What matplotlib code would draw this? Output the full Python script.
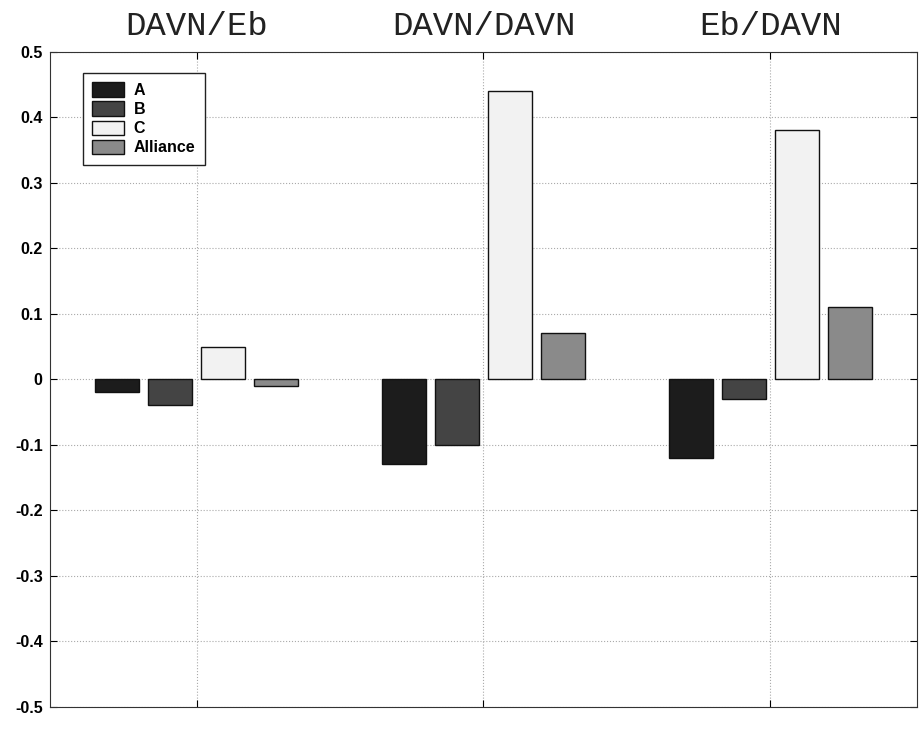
import matplotlib
matplotlib.use("Agg")
import matplotlib.pyplot as plt
import numpy as np

# Dados
grupos = ["DAVN/Eb", "DAVN/DAVN", "Eb/DAVN"]
series = ["A", "B", "C", "Alliance"]
valores_a = [-0.02, -0.13, -0.12]
valores_b = [-0.04, -0.10, -0.03]
valores_c = [0.05, 0.44, 0.38]
valores_alliance = [-0.01, 0.07, 0.11]
y_ticks = [-0.5, -0.4, -0.3, -0.2, -0.1, 0, 0.1, 0.2, 0.3, 0.4, 0.5]
y_labels = ["-0.5", "-0.4", "-0.3", "-0.2", "-0.1", "0", "0.1", "0.2", "0.3", "0.4", "0.5"]

cores = ["#1c1c1c", "#444444", "#f2f2f2", "#8a8a8a"]


def main():
    fig = plt.figure(figsize=(9.2, 7.4), dpi=100)
    ax = fig.add_axes([0.054, 0.045, 0.943, 0.885])

    x = np.arange(1, len(grupos) + 1)
    largura = 0.154
    passo = 0.185
    todos = [valores_a, valores_b, valores_c, valores_alliance]
    for i, (nome, vals) in enumerate(zip(series, todos)):
        desloc = (i - 1.5) * passo
        ax.bar(x + desloc, vals, width=largura, color=cores[i],
               edgecolor="#111111", linewidth=1.0, label=nome, zorder=3)

    ax.set_xlim(0.487, 3.513)
    ax.set_ylim(-0.5, 0.5)
    ax.set_xticks(x)
    ax.set_xticklabels([])
    ax.set_yticks(y_ticks)
    ax.set_yticklabels(y_labels, fontweight="bold", fontsize=11.5, family="Liberation Sans")
    ax.tick_params(direction="in", length=5, top=True, right=True, pad=5)
    ax.grid(True, linestyle=":", color="#aaaaaa", linewidth=0.8, zorder=0)
    for lado in ax.spines.values():
        lado.set_color("#333333")

    # Titulos dos grupos
    for xi, g in zip(x, grupos):
        ax.text(xi, 1.026, g, transform=ax.get_xaxis_transform(),
                ha="center", va="baseline", fontsize=24.5, family="Liberation Mono",
                color="#222222")

    leg = ax.legend(loc="upper left", bbox_to_anchor=(0.038, 0.968), borderaxespad=0,
                    fancybox=False, edgecolor="#222222", framealpha=1,
                    prop={"family": "Liberation Sans", "weight": "bold", "size": 11.5},
                    handlelength=2.0, handleheight=1.0, labelspacing=0.22,
                    handletextpad=0.6, borderpad=0.6)
    leg.get_frame().set_linewidth(1.0)

    fig.savefig("out.png", dpi=100)


if __name__ == "__main__":
    main()
